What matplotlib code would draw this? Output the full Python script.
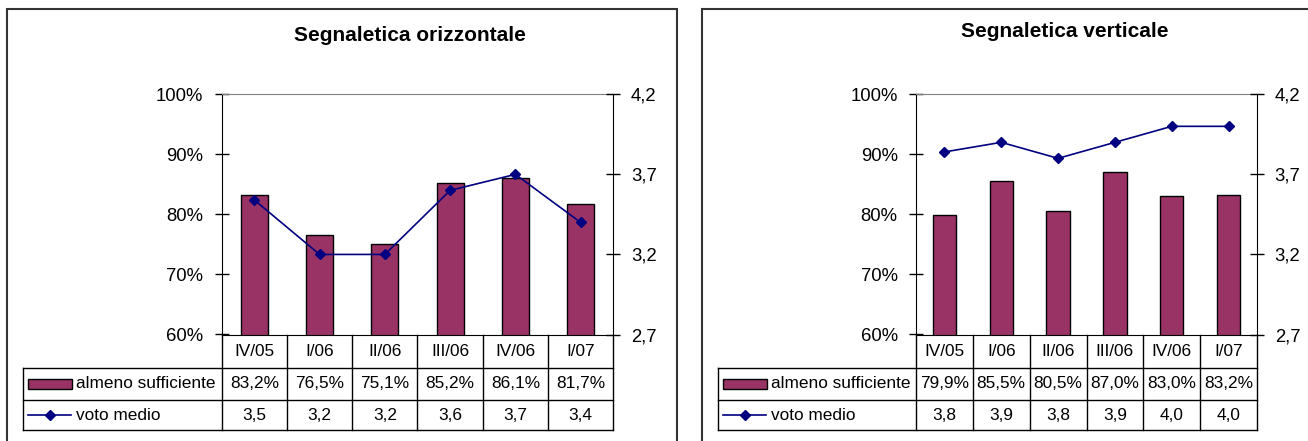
import matplotlib
matplotlib.use("Agg")
import matplotlib.pyplot as plt
from matplotlib.patches import Rectangle
from matplotlib.lines import Line2D
from matplotlib.transforms import blended_transform_factory

plt.rcParams['font.family'] = ['Liberation Sans', 'DejaVu Sans']

# ---- data ----
categories = ["IV/05", "I/06", "II/06", "III/06", "IV/06", "I/07"]
orizz_pct = [83.2, 76.5, 75.1, 85.2, 86.1, 81.7]
orizz_voto = [3.54, 3.2, 3.2, 3.6, 3.7, 3.4]
vert_pct = [79.9, 85.5, 80.5, 87.0, 83.0, 83.2]
vert_voto = [3.84, 3.9, 3.8, 3.9, 4.0, 4.0]
pct_ticks = [60, 70, 80, 90, 100]
voto_ticks = [2.7, 3.2, 3.7, 4.2]
series_names = ["almeno sufficiente", "voto medio"]

W, H = 1308, 441
BAR = "#993366"
LINE = "#000080"
FRAME = "#333333"

fig = plt.figure(figsize=(W / 100, H / 100), dpi=100)


def fx(x):
    return x / W


def fy(y):
    return 1 - y / H


def panel(title, title_xy, frame, ax_l, ax_r, tab_l, pct, voto):
    top, bot = 94.3, 334.5
    # frame
    fig.add_artist(Rectangle((fx(frame[0]), fy(frame[3])), fx(frame[2]) - fx(frame[0]),
                             fy(frame[1]) - fy(frame[3]), transform=fig.transFigure,
                             fill=False, edgecolor=FRAME, lw=1.5, clip_on=False))
    fig.text(fx(title_xy[0]), fy(title_xy[1]), title, ha="center", va="center",
             fontsize=15.0, fontweight="bold")

    ax = fig.add_axes([fx(ax_l), fy(bot), fx(ax_r) - fx(ax_l), fy(top) - fy(bot)])
    x = list(range(len(categories)))
    ax.bar(x, [p / 100 for p in pct], width=0.41, color=BAR, edgecolor="black",
           linewidth=1, zorder=2)
    ax.set_xlim(-0.5, len(categories) - 0.5)
    ax.set_ylim(0.6, 1.0)
    ax.set_yticks([t / 100 for t in pct_ticks])
    ax.set_yticklabels([f"{t}%" for t in pct_ticks])
    ax.set_xticks([])
    ax.tick_params(axis="y", direction="inout", length=9.4, width=1, pad=8.5,
                   labelsize=13.3, color="black")
    ax.spines["top"].set_color("#808080")
    ax.spines["right"].set_visible(False)
    ax.spines["left"].set_color("black")
    ax.spines["bottom"].set_color("black")

    ax2 = ax.twinx()
    ax2.plot(x, voto, color=LINE, lw=1.2, marker="D", markersize=5,
             markerfacecolor=LINE, markeredgecolor=LINE, zorder=3)
    ax2.set_ylim(2.7, 4.2)
    ax2.set_yticks(voto_ticks)
    ax2.set_yticklabels([f"{t:.1f}".replace(".", ",") for t in voto_ticks])
    ax2.tick_params(axis="y", direction="inout", length=9.4, width=1, pad=8.0,
                    labelsize=13.3, color="black")
    for s in ["top", "left", "bottom"]:
        ax2.spines[s].set_visible(False)
    ax2.spines["right"].set_color("black")

    # ---- data table ----
    tr = blended_transform_factory(ax.transData, fig.transFigure)
    r0, r1, r2, r3 = 334.5, 367.7, 400.0, 430.0
    kw = dict(color="black", lw=1, clip_on=False)
    for i in range(len(categories) + 1):
        fig.add_artist(Line2D([i - 0.5, i - 0.5], [fy(r0), fy(r3)], transform=tr, **kw))
    for yy in (r1, r2, r3):
        fig.add_artist(Line2D([fx(tab_l), fx(ax_r)], [fy(yy), fy(yy)],
                              transform=fig.transFigure, **kw))
    fig.add_artist(Line2D([fx(tab_l), fx(tab_l)], [fy(r1), fy(r3)],
                          transform=fig.transFigure, **kw))
    for i, c in enumerate(categories):
        fig.text(i, fy((r0 + r1) / 2), c, transform=tr, ha="center", va="center",
                 fontsize=12.4)
        fig.text(i, fy((r1 + r2) / 2), f"{pct[i]:.1f}%".replace(".", ","),
                 transform=tr, ha="center", va="center", fontsize=12.4)
        fig.text(i, fy((r2 + r3) / 2), f"{voto[i]:.1f}".replace(".", ","),
                 transform=tr, ha="center", va="center", fontsize=12.4)
    # legend keys
    yk1 = (r1 + r2) / 2
    yk2 = (r2 + r3) / 2
    fig.add_artist(Rectangle((fx(tab_l + 5), fy(yk1 + 5)), fx(43.5), fy(0) - fy(10),
                             transform=fig.transFigure, facecolor=BAR,
                             edgecolor="black", lw=1, clip_on=False))
    fig.add_artist(Line2D([fx(tab_l + 5), fx(tab_l + 48)], [fy(yk2), fy(yk2)],
                          transform=fig.transFigure, color=LINE, lw=1.2, clip_on=False))
    fig.add_artist(Line2D([fx(tab_l + 26.5)], [fy(yk2)], transform=fig.transFigure,
                          marker="D", markersize=5, color=LINE, lw=0, clip_on=False))
    fig.text(fx(tab_l + 53), fy(yk1), series_names[0], ha="left", va="center",
             fontsize=12.4)
    fig.text(fx(tab_l + 53), fy(yk2), series_names[1], ha="left", va="center",
             fontsize=12.4)


panel("Segnaletica orizzontale", (409.7, 35.3), (7, 9, 676.7, 470),
      221.7, 613.3, 23.3, orizz_pct, orizz_voto)
panel("Segnaletica verticale", (1065, 31.7), (701.7, 9, 1330, 470),
      916.0, 1257.0, 718.3, vert_pct, vert_voto)

fig.savefig("out.png", dpi=100)
